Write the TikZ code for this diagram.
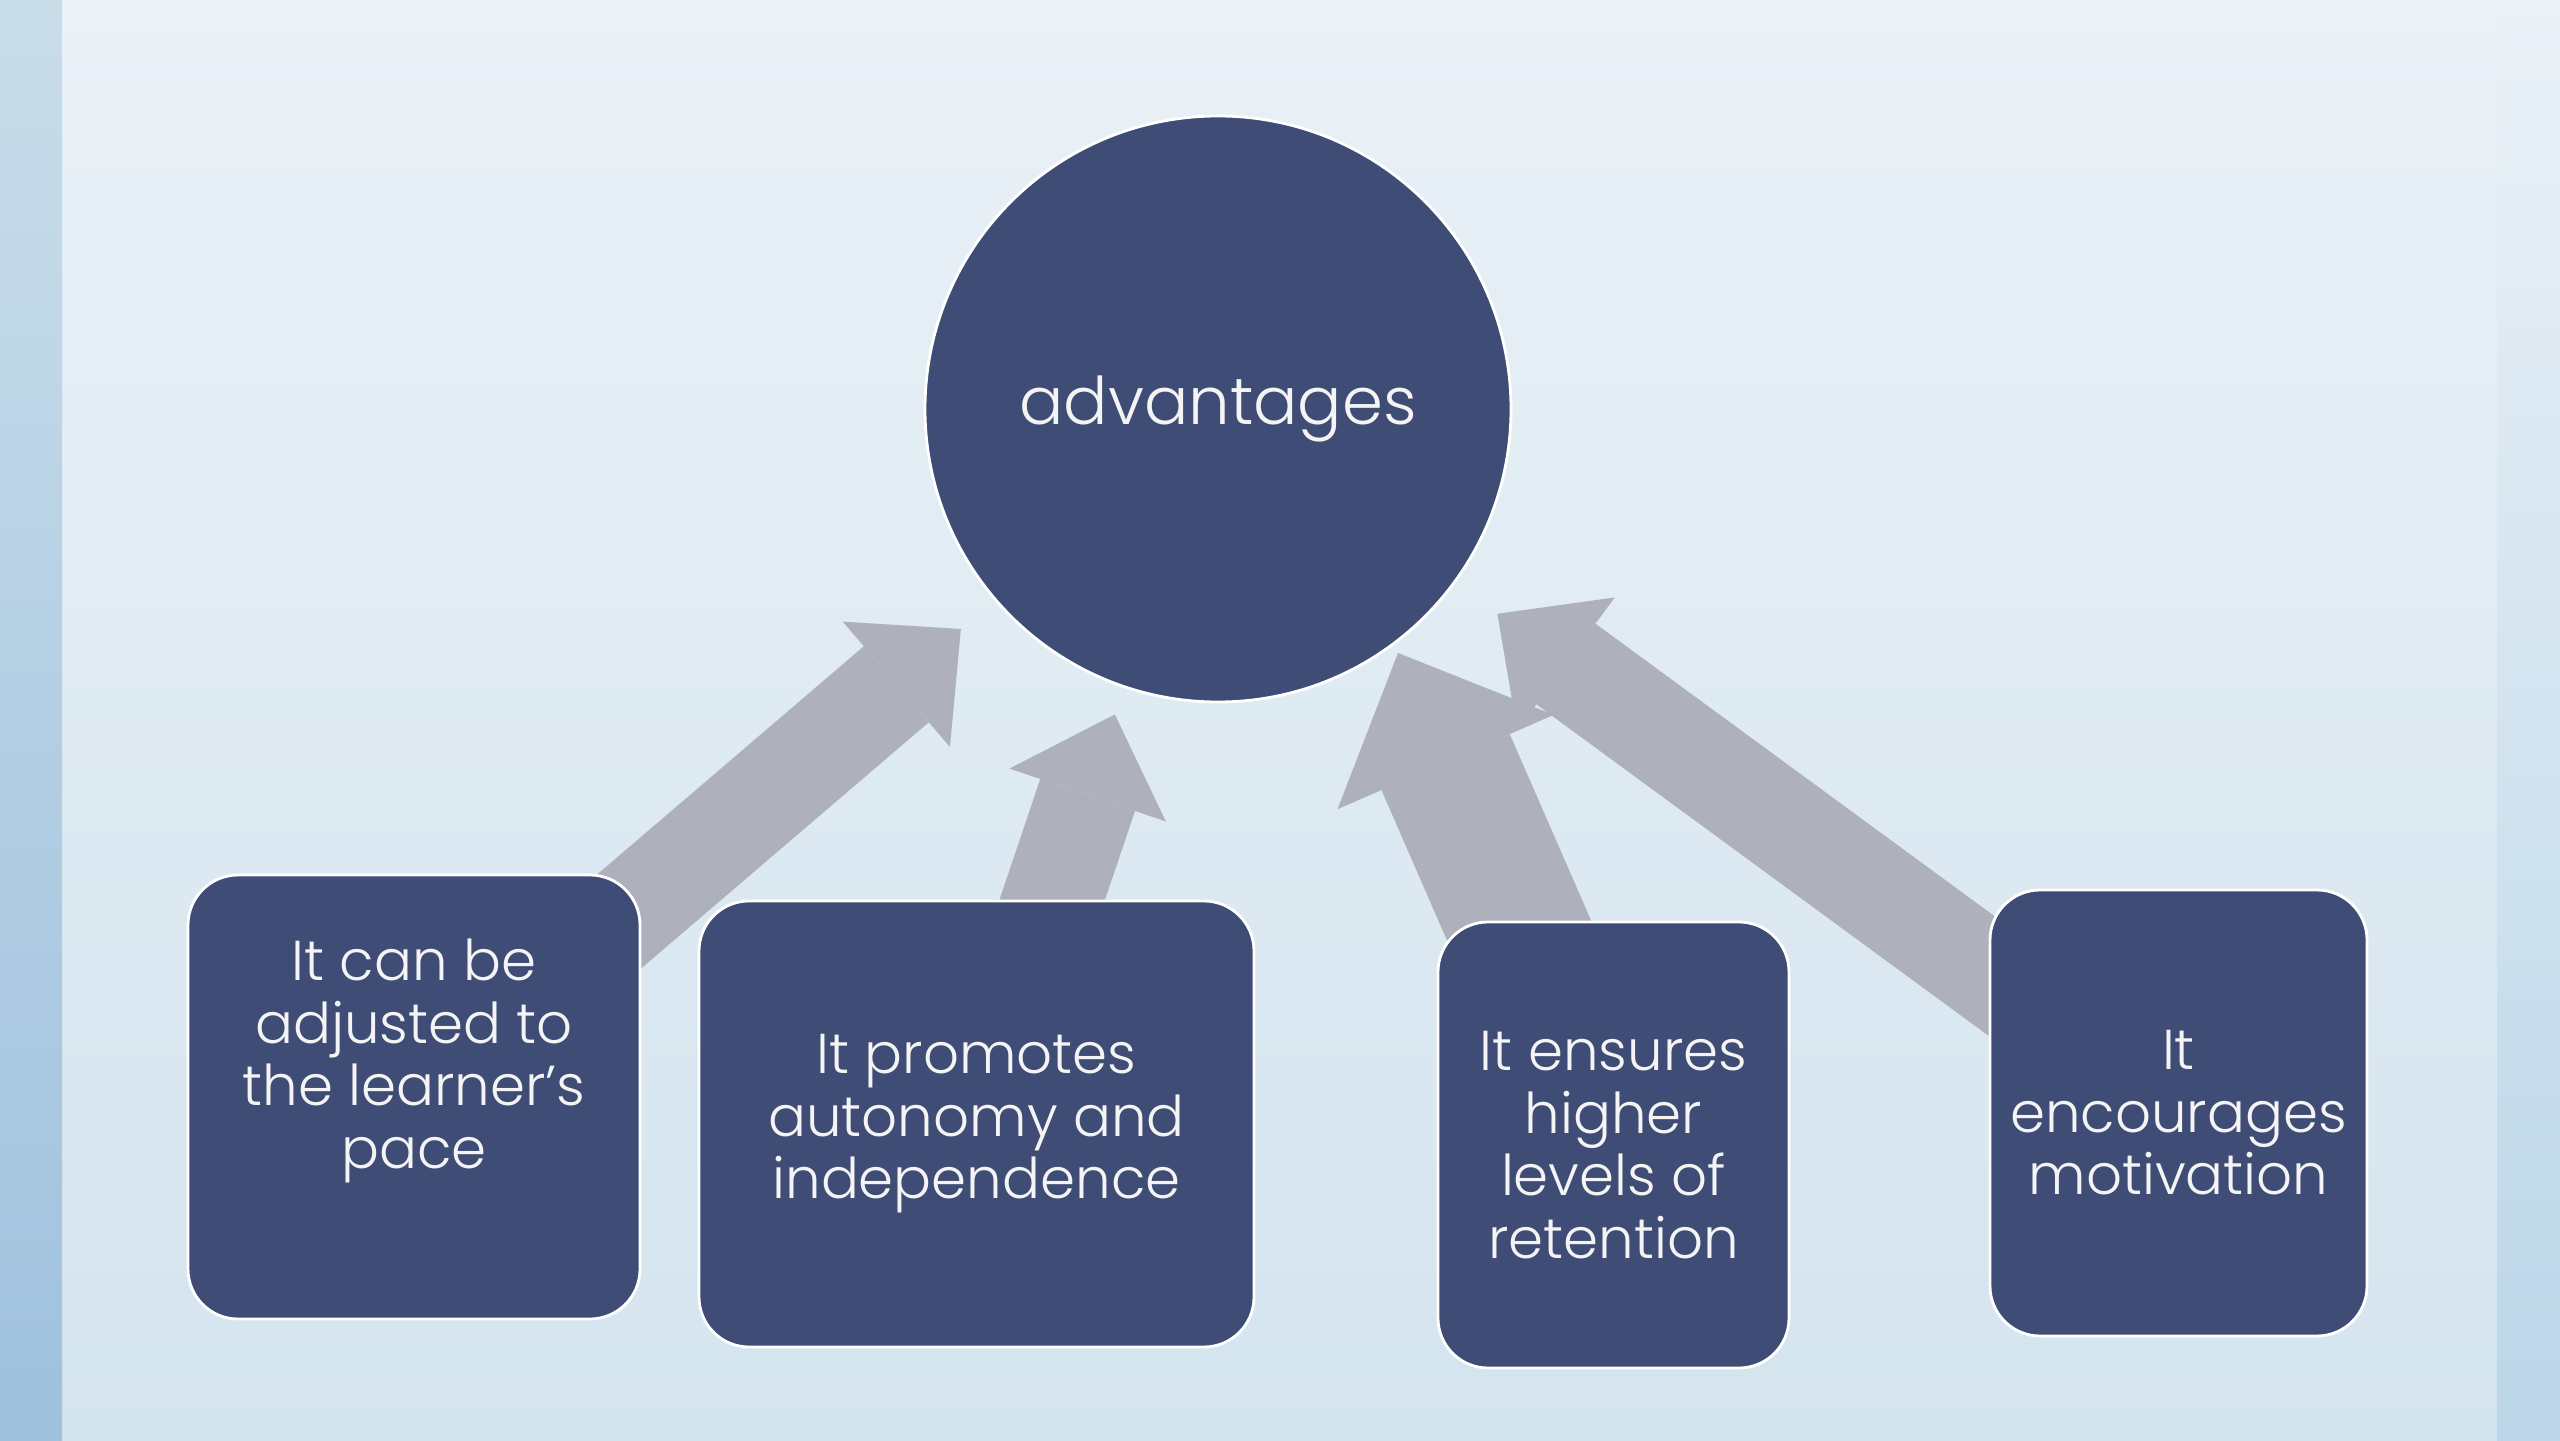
\documentclass[tikz,border=0pt]{standalone}
\usepackage{fontspec}
\setmainfont{Poppins Light}
\usepackage{xcolor}
\definecolor{slate}{HTML}{3F4C75}
\definecolor{arrowgray}{HTML}{AEB1BB}
\definecolor{bgtop}{HTML}{EAF1F7}
\definecolor{bgbot}{HTML}{D4E4EE}
\definecolor{stripa}{HTML}{C9DDE9}
\definecolor{stripb}{HTML}{9FC1DE}
\definecolor{stripc}{HTML}{BBD6E8}
\definecolor{labelwhite}{HTML}{F4F4F4}
\usepackage{tikz}
\usetikzlibrary{arrows.meta,backgrounds}

\begin{document}
\begin{tikzpicture}[
  font=\fontsize{16}{17.8}\selectfont,
  hubnode/.style={circle, draw=white, line width=0.8pt, fill=slate, text=labelwhite,
                  minimum size=5.86cm, inner sep=0pt},
  card/.style={draw=white, line width=0.8pt, fill=slate, text=labelwhite, rounded corners=0.5cm,
               minimum height=4.46cm, align=center, inner sep=2pt},
  fat/.style={arrowgray, line width=1cm, -{Triangle[length=0.85cm, width=1.65cm, line width=0pt]}},
  fatter/.style={arrowgray, line width=1.4cm, -{Triangle[length=1.19cm, width=2.36cm, line width=0pt]}}
]
  \node[hubnode] (hub) at (12.18,10.31) {\fontsize{18.7}{22}\selectfont advantages};

  \node[card, minimum width=4.52cm, minimum height=4.44cm] (box1) at (4.14,3.43)
        {It can be\\adjusted to\\the learner’s\\pace\\[6.8pt]\mbox{}};
  \node[card, minimum width=5.55cm] (box2) at (9.765,3.16) {It promotes\\autonomy and\\independence};
  \node[card, minimum width=3.51cm] (box3) at (16.135,2.95) {It ensures\\higher\\levels of\\retention};
  \node[card, minimum width=3.77cm] (box4) at (21.785,3.27) {It\\encourages\\motivation};

  \coordinate (tip3) at (13.98,7.87);

  \begin{scope}[on background layer]
    \shade[top color=bgtop, bottom color=bgbot] (0,0) rectangle (25.6,14.4);
    \shade[top color=stripa, bottom color=stripb] (0,0) rectangle (0.62,14.4);
    \shade[top color=bgtop, bottom color=stripc] (24.97,0) rectangle (25.6,14.4);

    \draw[fat, shorten >=0.44cm] (box1.center) -- (hub);
    \draw[fat, shorten >=0.28cm] (box2.center) -- (hub);
    \draw[fatter] ([shift={(-0.56,-0.98)}]box3.north) -- (tip3);
    \draw[fat, shorten >=0.52cm] (box4.center) -- (hub);
  \end{scope}
\end{tikzpicture}
\end{document}
